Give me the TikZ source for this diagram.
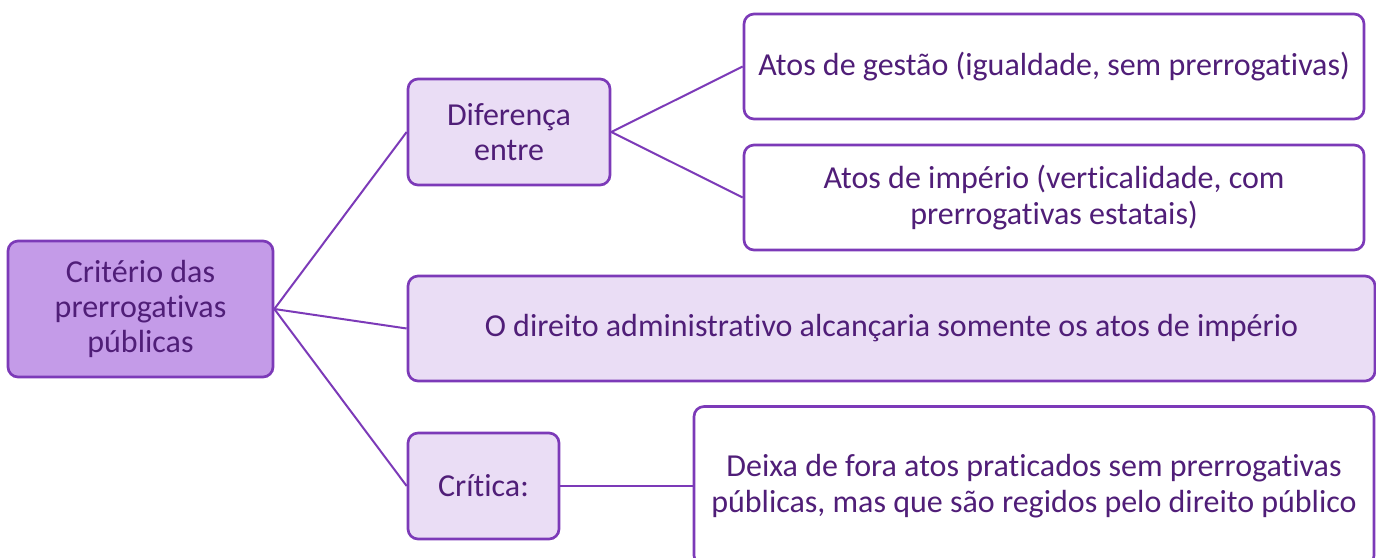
\documentclass[tikz,border=0pt]{standalone}
\usepackage{fontspec}
\setmainfont[Ligatures={NoCommon}]{Carlito}
\definecolor{bord}{RGB}{124,58,184}
\definecolor{txt}{RGB}{80,30,120}
\definecolor{darkfill}{RGB}{196,155,232}
\definecolor{lightfill}{RGB}{234,221,245}
\tikzset{
  box/.style={draw=bord, line width=2pt, rounded corners=7.5pt, align=center,
    text=txt, font=\fontsize{24}{26.5}\selectfont, inner sep=0pt},
  conn/.style={draw=bord, line width=1.5pt}
}
\begin{document}
\begin{tikzpicture}[x=0.75pt, y=-0.75pt]
\useasboundingbox (0,0) rectangle (1376,557);
\node[box, fill=darkfill, minimum width=198.75pt, minimum height=102pt] (root) at (140.5,309) {Critério das\\prerrogativas\\públicas};
\node[box, fill=lightfill, minimum width=151.5pt, minimum height=79.5pt] (dif) at (509,132) {Diferença\\entre};
\node[box, fill=white, minimum width=465pt, minimum height=78.75pt] (gest) at (1054,66.5) {Atos de gestão (igualdade, sem prerrogativas)};
\node[box, fill=white, minimum width=465pt, minimum height=78.75pt] (imp) at (1054,197.5) {Atos de império (verticalidade, com\\prerrogativas estatais)};
\node[box, fill=lightfill, minimum width=725.25pt, minimum height=78.75pt] (dir) at (891.5,328.5) {O direito administrativo alcançaria somente os atos de império};
\node[box, fill=lightfill, minimum width=113.25pt, minimum height=79.5pt] (crit) at (483.5,486) {Crítica:};
\node[box, fill=white, minimum width=510pt, minimum height=119.25pt] (deixa) at (1034,486) {Deixa de fora atos praticados sem prerrogativas\\públicas, mas que são regidos pelo direito público};
\draw[conn] (root.east) -- (dif.west);
\draw[conn] (root.east) -- (dir.west);
\draw[conn] (root.east) -- (crit.west);
\draw[conn] (dif.east) -- (gest.west);
\draw[conn] (dif.east) -- (imp.west);
\draw[conn] (crit.east) -- (deixa.west);
\end{tikzpicture}
\end{document}
